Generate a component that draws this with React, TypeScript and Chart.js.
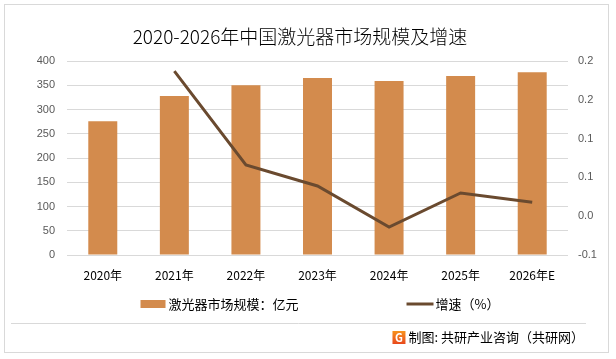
import React, { useEffect, useRef } from "react";
import { Chart, registerables } from "chart.js";

Chart.register(...registerables);

const categories = ["2020年", "2021年", "2022年", "2023年", "2024年", "2025年", "2026年E"];
const marketSize = [276, 328, 350, 365, 359, 369, 377];
const growthRate: (number | null)[] = [null, 0.187, 0.066, 0.039, -0.014, 0.03, 0.018];
const leftAxisRange = [0, 400, 50];
const rightAxisRange = [-0.05, 0.2, 0.05];
const titleText = "2020-2026年中国激光器市场规模及增速";
const seriesNames = ["激光器市场规模：亿元", "增速（%）"];
const footerText = "制图: 共研产业咨询（共研网）";

const BAR_COLOR = "#D38B4D";
const LINE_COLOR = "#6A4A2F";
const GRID_COLOR = "#D9D9D9";
const CJK = "'Noto Sans CJK SC', 'Noto Sans', sans-serif";

function excelRound1(v: number) {
  const s = v < 0 ? -1 : 1;
  const r = (s * Math.round(Math.abs(v) * 10 + 1e-9)) / 10;
  return (r === 0 ? 0 : r).toFixed(1);
}

const decorPlugin = {
  id: "decor",
  beforeDraw(chart: any) {
    const ctx = chart.ctx;
    ctx.save();
    ctx.fillStyle = "#ffffff";
    ctx.fillRect(0, 0, chart.width, chart.height);
    ctx.restore();
  },
  afterDraw(chart: any) {
    const ctx = chart.ctx;
    ctx.save();
    // frame
    ctx.strokeStyle = GRID_COLOR;
    ctx.lineWidth = 1;
    ctx.strokeRect(4.5, 4.5, 604, 348);
    // title
    ctx.fillStyle = "#000000";
    ctx.font = `300 19px ${CJK}`;
    ctx.textAlign = "center";
    ctx.textBaseline = "middle";
    ctx.fillText(titleText, 300, 37);

    // legend
    ctx.font = `13px ${CJK}`;
    ctx.textAlign = "left";
    ctx.textBaseline = "middle";
    const w1 = ctx.measureText(seriesNames[0]).width;
    const w2 = ctx.measureText(seriesNames[1]).width;
    const gap = 108;
    const total = 25 + 3 + w1 + gap + 27 + 2 + w2;
    let x = 320 - total / 2;
    const ly = 304;
    ctx.fillStyle = BAR_COLOR;
    ctx.fillRect(x, ly - 4, 25, 8);
    ctx.fillStyle = "#000000";
    ctx.fillText(seriesNames[0], x + 28, ly);
    x += 28 + w1 + gap;
    ctx.strokeStyle = LINE_COLOR;
    ctx.lineWidth = 3;
    ctx.beginPath();
    ctx.moveTo(x, ly);
    ctx.lineTo(x + 27, ly);
    ctx.stroke();
    ctx.fillStyle = "#000000";
    ctx.fillText(seriesNames[1], x + 29, ly);

    // footer separator
    ctx.strokeStyle = GRID_COLOR;
    ctx.lineWidth = 1;
    ctx.beginPath();
    ctx.moveTo(11, 323.5);
    ctx.lineTo(586, 323.5);
    ctx.stroke();

    // footer text
    ctx.font = `13px ${CJK}`;
    ctx.textAlign = "right";
    ctx.fillStyle = "#000000";
    ctx.fillText(footerText, 584, 337);
    const fw = ctx.measureText(footerText).width;
    // logo
    const lx = 584 - fw - 16;
    const lyy = 331;
    const grad = ctx.createLinearGradient(lx, lyy, lx, lyy + 13);
    grad.addColorStop(0, "#F7931E");
    grad.addColorStop(1, "#E8481C");
    ctx.fillStyle = grad;
    ctx.beginPath();
    ctx.rect(lx, lyy, 13, 13);
    ctx.fill();
    ctx.fillStyle = "#ffffff";
    ctx.font = `bold 11px ${CJK}`;
    ctx.textAlign = "center";
    ctx.fillText("G", lx + 6.5, lyy + 7);
    ctx.restore();
  },
};

export default function App() {
  const ref = useRef<HTMLCanvasElement | null>(null);
  useEffect(() => {
    document.body.style.margin = "0";
    const canvas = ref.current;
    if (!canvas) return;
    const chart = new Chart(canvas, {
      type: "bar",
      data: {
        labels: categories,
        datasets: [
          {
            type: "line",
            label: seriesNames[1],
            data: growthRate,
            yAxisID: "y1",
            borderColor: LINE_COLOR,
            backgroundColor: LINE_COLOR,
            borderWidth: 3,
            pointRadius: 0,
            tension: 0,
            spanGaps: false,
            order: 0,
          } as any,
          {
            type: "bar",
            label: seriesNames[0],
            data: marketSize,
            yAxisID: "y",
            backgroundColor: BAR_COLOR,
            barPercentage: 0.405,
            categoryPercentage: 1,
            order: 1,
          },
        ],
      },
      options: {
        responsive: false,
        animation: false,
        devicePixelRatio: 1,
        layout: { padding: { top: 61, bottom: 64, left: 0, right: 0 } },
        plugins: {
          legend: { display: false },
          title: { display: false },
          tooltip: { enabled: false },
        },
        scales: {
          x: {
            grid: { display: false, drawTicks: false },
            border: { display: false },
            ticks: {
              color: "#000000",
              font: { size: 12, family: CJK },
              padding: 13,
              maxRotation: 0,
              autoSkip: false,
            },
            afterFit: (s: any) => {
              s.height = 40;
            },
          },
          y: {
            position: "left",
            min: leftAxisRange[0],
            max: leftAxisRange[1],
            ticks: {
              stepSize: leftAxisRange[2],
              color: "#595959",
              font: { size: 11, family: "'Liberation Sans', sans-serif" },
              padding: 12,
            },
            grid: { color: GRID_COLOR, drawTicks: false, lineWidth: 1 },
            border: { display: false },
            afterFit: (s: any) => {
              s.width = 67;
            },
          },
          y1: {
            position: "right",
            min: rightAxisRange[0],
            max: rightAxisRange[1],
            ticks: {
              stepSize: rightAxisRange[2],
              color: "#595959",
              font: { size: 11, family: "'Liberation Sans', sans-serif" },
              padding: 10,
              callback: (v: any) => excelRound1(Number(v)),
            },
            grid: { display: false, drawTicks: false },
            border: { display: false },
            afterFit: (s: any) => {
              s.width = 48;
            },
          },
        },
      },
      plugins: [decorPlugin],
    });
    return () => chart.destroy();
  }, []);
  return (
    <div style={{ position: "fixed", left: 0, top: 0, width: 616, height: 359 }}>
      <canvas ref={ref} width={616} height={359} style={{ width: 616, height: 359, display: "block" }} />
    </div>
  );
}
